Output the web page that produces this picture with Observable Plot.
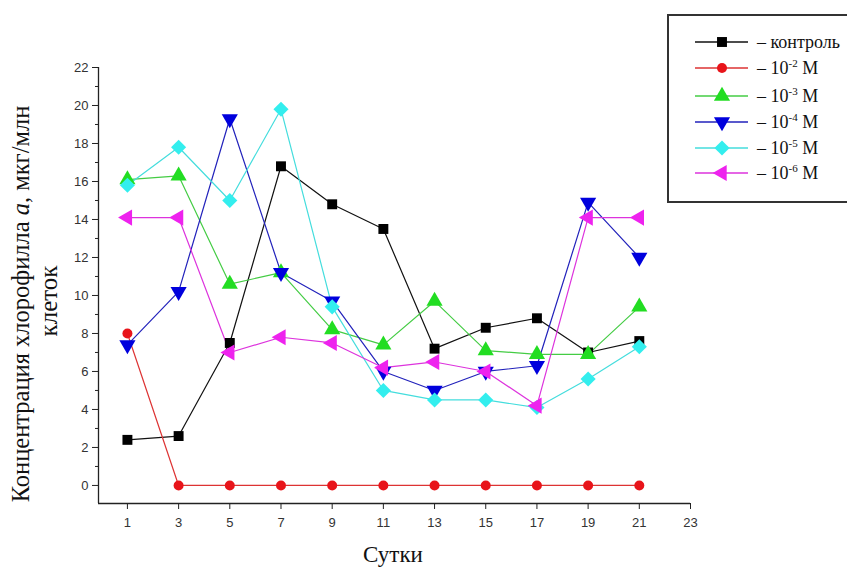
<!DOCTYPE html>
<html><head><meta charset="utf-8">
<script src="https://cdn.jsdelivr.net/npm/d3@7"></script>
<script src="https://cdn.jsdelivr.net/npm/@observablehq/plot@0.6"></script>
<style>body{margin:0;background:#fff;} svg{display:block;}</style>
</head><body><div id="chart"></div>
<script>
const days = [1,3,5,7,9,11,13,15,17,19,21];
const seriesNames = ["контроль","10-2","10-3","10-4","10-5","10-6"];
const legendLabels = [["– контроль",""],["– 10","-2"],["– 10","-3"],["– 10","-4"],["– 10","-5"],["– 10","-6"]];
const control = [2.4,2.6,7.5,16.8,14.8,13.5,7.2,8.3,8.8,7.0,7.6];
const m2 = [8.0,0,0,0,0,0,0,0,0,0,0];
const m3 = [16.1,16.3,10.6,11.2,8.2,7.4,9.7,7.1,6.9,6.9,9.4];
const m4 = [7.4,10.2,19.3,11.2,9.7,6.0,5.0,6.0,6.3,14.9,12.0];
const m5 = [15.8,17.8,15.0,19.8,9.4,5.0,4.5,4.5,4.1,5.6,7.3];
const m6 = [14.1,14.1,7.0,7.8,7.5,6.2,6.5,6.0,4.2,14.1,14.1];
const yTicks = [0,2,4,6,8,10,12,14,16,18,20,22];
const yMinor = [1,3,5,7,9,11,13,15,17,19,21];
const xTicks = [1,3,5,7,9,11,13,15,17,19,21,23];

const colors = ["#000000","#e8141a","#22dd22","#0000dd","#33eeee","#ee22ee"];
const lineColors = ["#111111","#dd3333","#44cc44","#2222bb","#44dddd","#dd33dd"];
const symbols = ["square","circle","triangle","triangle","diamond2","triangle"];
const rotates = [0,0,0,180,0,-90];
const sizes = [5.6,5,6,6,6.8,6];
const allVals = [control,m2,m3,m4,m5,m6];

const xDomain = [-0.13, 23];
const yDomain = [-0.95, 22];

const marks = [
  Plot.ruleX([xDomain[0]], {y1: yDomain[0], y2: yDomain[1], stroke: "#222", strokeWidth: 1.3}),
  Plot.ruleY([yDomain[0]], {x1: xDomain[0], x2: xDomain[1], stroke: "#222", strokeWidth: 1.3}),
  Plot.axisY({ticks: yTicks, tickSize: 6, tickPadding: 4, fontSize: 13, fill: "#333", stroke: "#222", label: null, fontFamily: "Liberation Sans, Arial, sans-serif"}),
  Plot.axisY({ticks: yMinor, tickSize: 3, text: null, stroke: "#222", label: null}),
  Plot.axisX({ticks: xTicks, tickSize: 6, tickPadding: 8, fontSize: 13, fill: "#333", stroke: "#222", label: null, fontFamily: "Liberation Sans, Arial, sans-serif"})
];
allVals.forEach((vals, i) => {
  const data = days.map((d, j) => ({day: d, value: vals[j]}));
  marks.push(Plot.line(data, {x: "day", y: "value", stroke: lineColors[i], strokeWidth: 1.2}));
});
allVals.forEach((vals, i) => {
  const data = days.map((d, j) => ({day: d, value: vals[j]}));
  marks.push(Plot.dot(data, {x: "day", y: "value", symbol: () => symbols[i], fill: colors[i], stroke: "none", r: sizes[i], rotate: rotates[i]}));
});

const svgNode = Plot.plot({
  width: 847, height: 569,
  marginLeft: 98, marginRight: 157, marginTop: 67, marginBottom: 66,
  x: {domain: xDomain},
  y: {domain: yDomain},
  symbol: {type: "identity"},
  style: {background: "#fff"},
  marks
});
document.getElementById("chart").appendChild(svgNode);

const svg = d3.select(svgNode);
const serif = "Liberation Serif, Times New Roman, serif";
// Y title
const t1 = svg.append("text").attr("transform", "translate(29,304) rotate(-90)")
  .attr("text-anchor", "middle").attr("font-family", serif).attr("font-size", 24.5).attr("fill", "#111");
t1.append("tspan").text("Концентрация хлорофилла ");
t1.append("tspan").attr("font-style", "italic").text("a");
t1.append("tspan").text(", мкг/млн");
svg.append("text").attr("transform", "translate(57,301) rotate(-90)")
  .attr("text-anchor", "middle").attr("font-family", serif).attr("font-size", 25).attr("fill", "#111").text("клеток");
// X title
svg.append("text").attr("x", 393).attr("y", 562).attr("text-anchor", "middle")
  .attr("font-family", serif).attr("font-size", 23).attr("fill", "#111").text("Сутки");

// Legend
const lg = svg.append("g");
lg.append("rect").attr("x", 668).attr("y", 15).attr("width", 190).attr("height", 187)
  .attr("fill", "#fff").attr("stroke", "#333").attr("stroke-width", 2);
const rowsY = [42, 68, 96, 122, 148, 173];
seriesNames.forEach((s, i) => {
  const y = rowsY[i];
  lg.append("line").attr("x1", 695).attr("x2", 748).attr("y1", y).attr("y2", y)
    .attr("stroke", lineColors[i]).attr("stroke-width", 1.3);
  const sym = {square: d3.symbolSquare, circle: d3.symbolCircle, triangle: d3.symbolTriangle, diamond2: d3.symbolDiamond2}[symbols[i]];
  lg.append("path").attr("d", d3.symbol(sym, Math.PI * sizes[i] * sizes[i])())
    .attr("transform", `translate(722,${y}) rotate(${rotates[i]})`).attr("fill", colors[i]);
  const tx = lg.append("text").attr("x", 757).attr("y", y + 6).attr("font-family", serif)
    .attr("text-anchor", "start").attr("font-size", 18).attr("fill", "#111");
  tx.append("tspan").text(legendLabels[i][0]);
  if (legendLabels[i][1]) {
    tx.append("tspan").attr("dy", -7).attr("font-size", 11).text(legendLabels[i][1]);
    tx.append("tspan").attr("dy", 7).attr("font-size", 18).text(" M");
  }
});
</script></body></html>
